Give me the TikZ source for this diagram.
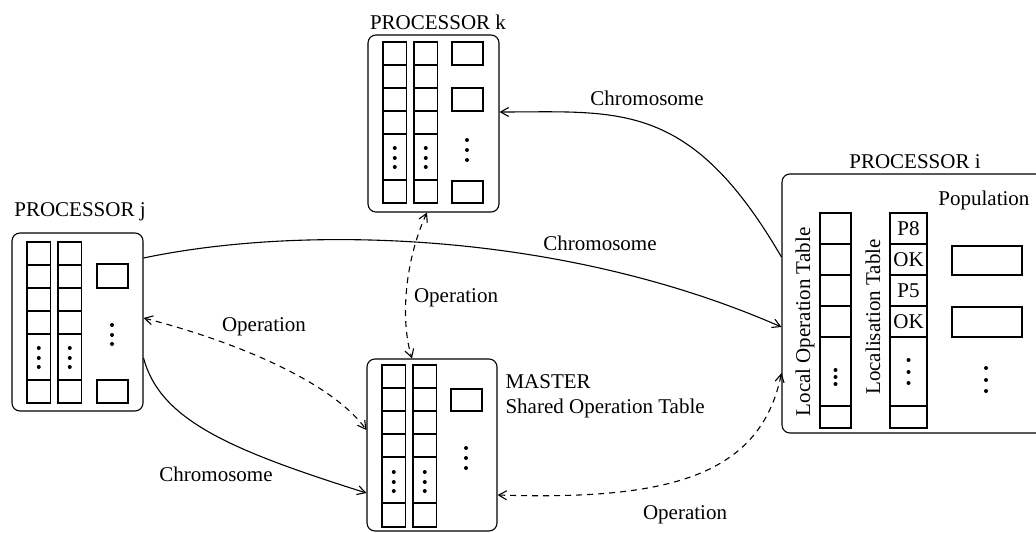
\documentclass[tikz,border=0pt]{standalone}
\usepackage{fontspec}
\setmainfont{Liberation Serif}
\usetikzlibrary{arrows.meta}
\begin{document}
\begin{tikzpicture}[x=0.5pt,y=-0.5pt,line width=0.55pt,
  box/.style={draw,rectangle,rounded corners=4pt,inner sep=0pt},
  lbl/.style={font=\fontsize{10.5}{12}\selectfont,inner sep=0pt},
  celltxt/.style={font=\fontsize{10.5}{12}\selectfont,inner sep=0pt},
  conn/.style={-{Straight Barb[length=4pt,width=4.5pt]}},
  dconn/.style={{Straight Barb[length=4pt,width=4.5pt]}-{Straight Barb[length=4pt,width=4.5pt]},dash pattern=on 3pt off 2.5pt}
]
\useasboundingbox (0,0) rectangle (1036,533);

% ---------- boxes ----------
\node[box,minimum width=65.5pt,minimum height=89pt] (pj) at (77.5,322) {};
\node[box,minimum width=65.5pt,minimum height=88.5pt] (pk) at (433.5,123.5) {};
\node[box,minimum width=65pt,minimum height=86pt] (pm) at (432,445) {};
\node[box,minimum width=139pt,minimum height=129.5pt] (pi) at (921,303.5) {};

% ---------- titles ----------
\node[lbl] (tj) at (80,212) {PROCESSOR j};
\node[lbl] (tk) at (438,22) {PROCESSOR k};
\node[lbl] (ti) at (915,162) {PROCESSOR i};
\node[lbl,anchor=west] (tm) at (505,382) {MASTER};
\node[lbl,anchor=west] (tm2) at (505,408) {Shared Operation Table};
\node[lbl,anchor=east] (tpop) at (1030,200) {Population};
\node[lbl,rotate=90] (tlot) at (805,322) {Local Operation Table};
\node[lbl,rotate=90] (tloc) at (873,317) {Localisation Table};

% ---------- processor j ----------
\foreach \x in {27,58} {
  \draw (\x,242) rectangle ++(23.5,161);
  \foreach \y in {265,288,311,334,380} \draw (\x,\y) -- ++(23.5,0);
  \foreach \y in {348,358,367} \fill (\x+11.75,\y) circle (1pt);
}
\draw (97,264) rectangle (128,288);
\draw (97,380) rectangle (128,403);
\foreach \y in {325,335,344} \fill (112,\y) circle (1pt);

% ---------- processor k ----------
\foreach \x in {383,414} {
  \draw (\x,42) rectangle ++(23.5,161);
  \foreach \y in {65,88,111,134,180} \draw (\x,\y) -- ++(23.5,0);
  \foreach \y in {148,158,167} \fill (\x+11.75,\y) circle (1pt);
}
\draw (452,42) rectangle (483,65);
\draw (452,88) rectangle (483,111);
\draw (452,181) rectangle (483,203);
\foreach \y in {140,150,160} \fill (467,\y) circle (1pt);

% ---------- master ----------
\foreach \x in {382,413} {
  \draw (\x,365) rectangle ++(23.5,162);
  \foreach \y in {388,411,434,457,503} \draw (\x,\y) -- ++(23.5,0);
  \foreach \y in {472,482,491} \fill (\x+11.75,\y) circle (1pt);
}
\draw (451,389) rectangle (482,411);
\foreach \y in {448,458,468} \fill (466,\y) circle (1pt);

% ---------- processor i ----------
\draw (820,213) rectangle (851,428);
\foreach \y in {244,275,306,337,406} \draw (820,\y) -- (851,\y);
\foreach \y in {370,377,384} \fill (835.5,\y) circle (1pt);
\draw (890,213) rectangle (927,428);
\foreach \y in {244,275,306,337,406} \draw (890,\y) -- (927,\y);
\foreach \y in {360,372,383} \fill (908.5,\y) circle (1pt);
\node[celltxt] (c1) at (908.5,229) {P8};
\node[celltxt] (c2) at (908.5,260) {OK};
\node[celltxt] (c3) at (908.5,291) {P5};
\node[celltxt] (c4) at (908.5,322) {OK};
\draw (952,246) rectangle (1022,275);
\draw (952,307) rectangle (1022,337);
\foreach \y in {368,380,391} \fill (986,\y) circle (1pt);

% ---------- connectors ----------
\draw[conn] (pi.west |- 0,257) .. controls (690,100) and (620,112) .. (pk.east |- 0,112);
\node[lbl] (l1) at (647,98) {Chromosome};

\draw[conn] (pj.east |- 0,258) .. controls (300,225) and (560,230) .. (pi.west |- 0,327);
\node[lbl] (l2) at (600,243) {Chromosome};

\draw[conn] (pj.east |- 0,358) .. controls (160,420) and (230,450) .. (pm.west |- 0,493);
\node[lbl] (l3) at (216,474) {Chromosome};

\draw[dconn] (pj.east |- 0,318) .. controls (230,340) and (330,380) .. (pm.west |- 0,430);
\node[lbl] (l4) at (264,327) {Operation};

\draw[dconn] (pk.south -| 427,0) .. controls (405,260) and (400,320) .. (pm.north -| 412,0);
\node[lbl] (l5) at (456,298) {Operation};

\draw[dconn] (pm.east |- 0,495) .. controls (660,500) and (760,480) .. (pi.west |- 0,373);
\node[lbl] (l6) at (685,515) {Operation};
\end{tikzpicture}
\end{document}
